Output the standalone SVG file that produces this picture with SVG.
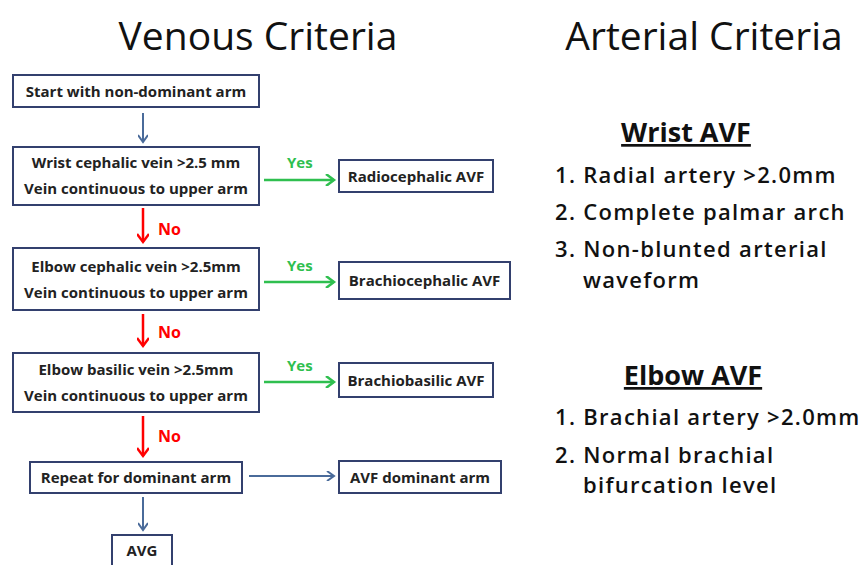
<svg xmlns="http://www.w3.org/2000/svg" width="862" height="565" viewBox="0 0 862 565">
<style>
.box{fill:#fff;stroke:#33406e;stroke-width:2}
.bt{font-family:"Open Sans","Liberation Sans",sans-serif;font-weight:bold;font-size:15px;fill:#222;text-anchor:middle}
.title{font-family:"Open Sans","Liberation Sans",sans-serif;font-size:39px;fill:#111;text-anchor:middle}
.rt{font-family:"Open Sans","Liberation Sans",sans-serif;font-weight:600;font-size:22px;letter-spacing:1.3px;fill:#111}
.rh{font-family:"Open Sans","Liberation Sans",sans-serif;font-weight:bold;font-size:27px;fill:#111;text-anchor:middle;text-decoration:underline}
.blue{stroke:#4a6b9a;stroke-width:2;fill:none}
.red{stroke:#ff0000;stroke-width:2.5;fill:none}
.green{stroke:#2fbf4f;stroke-width:2.5;fill:none}
.no{font-family:"Open Sans","Liberation Sans",sans-serif;font-weight:bold;font-size:16px;fill:#ff0000}
.yes{font-family:"Open Sans","Liberation Sans",sans-serif;font-weight:bold;font-size:15px;fill:#2fbf4f}
</style>
<defs>
<marker id="hb" markerWidth="10" markerHeight="10" refX="8" refY="5" orient="auto" markerUnits="userSpaceOnUse"><path d="M1,0 L8,5 L1,10" fill="none" stroke="#4a6b9a" stroke-width="2"/></marker>
<marker id="hr" markerWidth="12" markerHeight="12" refX="9" refY="6" orient="auto" markerUnits="userSpaceOnUse"><path d="M1,0 L9,6 L1,12" fill="none" stroke="#ff0000" stroke-width="2.5"/></marker>
<marker id="hg" markerWidth="12" markerHeight="12" refX="9" refY="6" orient="auto" markerUnits="userSpaceOnUse"><path d="M1,0 L9,6 L1,12" fill="none" stroke="#2fbf4f" stroke-width="2.5"/></marker>
</defs>
<rect width="862" height="565" fill="#fff"/>
<text class="title" x="258" y="50">Venous Criteria</text>
<text class="title" x="704" y="50">Arterial Criteria</text>

<g id="connectors">
<line class="blue" x1="143" y1="113" x2="143" y2="142" marker-end="url(#hb)"/>
<line class="red" x1="143" y1="208" x2="143" y2="242" marker-end="url(#hr)"/>
<line class="red" x1="143" y1="314" x2="143" y2="346" marker-end="url(#hr)"/>
<line class="red" x1="143" y1="416" x2="143" y2="456" marker-end="url(#hr)"/>
<line class="blue" x1="143" y1="497" x2="143" y2="530" marker-end="url(#hb)"/>
<line class="green" x1="264" y1="180" x2="334" y2="180" marker-end="url(#hg)"/>
<line class="green" x1="264" y1="282" x2="334" y2="282" marker-end="url(#hg)"/>
<line class="green" x1="264" y1="382" x2="334" y2="382" marker-end="url(#hg)"/>
<line class="blue" x1="249" y1="476" x2="334" y2="476" marker-end="url(#hb)"/>
<text class="no" x="158" y="235">No</text>
<text class="no" x="158" y="338">No</text>
<text class="no" x="158" y="442">No</text>
<text class="yes" x="287" y="168">Yes</text>
<text class="yes" x="287" y="271">Yes</text>
<text class="yes" x="287" y="371">Yes</text>
</g>

<g id="start"><rect class="box" x="13" y="75" width="246" height="32"/><text class="bt" x="136" y="97">Start with non-dominant arm</text></g>
<g id="wrist"><rect class="box" x="13" y="147" width="246" height="58"/><text class="bt" x="136" y="168">Wrist cephalic vein &gt;2.5 mm</text><text class="bt" x="136" y="194">Vein continuous to upper arm</text></g>
<g id="elbowceph"><rect class="box" x="13" y="248" width="246" height="62"/><text class="bt" x="136" y="272">Elbow cephalic vein &gt;2.5mm</text><text class="bt" x="136" y="298">Vein continuous to upper arm</text></g>
<g id="elbowbas"><rect class="box" x="13" y="353" width="246" height="59"/><text class="bt" x="136" y="375">Elbow basilic vein &gt;2.5mm</text><text class="bt" x="136" y="401">Vein continuous to upper arm</text></g>
<g id="repeat"><rect class="box" x="30" y="462" width="212" height="31"/><text class="bt" x="136" y="483">Repeat for dominant arm</text></g>
<g id="avg"><rect class="box" x="112" y="535" width="60" height="31"/><text class="bt" x="142" y="556">AVG</text></g>
<g id="radio"><rect class="box" x="339" y="160" width="154" height="32"/><text class="bt" x="416" y="182">Radiocephalic AVF</text></g>
<g id="brachioceph"><rect class="box" x="339" y="262" width="171" height="37"/><text class="bt" x="424.5" y="286">Brachiocephalic AVF</text></g>
<g id="brachiobas"><rect class="box" x="339" y="363" width="154" height="34"/><text class="bt" x="416" y="386">Brachiobasilic AVF</text></g>
<g id="avfdom"><rect class="box" x="339" y="461" width="162" height="32"/><text class="bt" x="420" y="483">AVF dominant arm</text></g>

<g id="arterial">
<text class="rh" x="686" y="142">Wrist AVF</text>
<text class="rt" x="555" y="183">1. Radial artery &gt;2.0mm</text>
<text class="rt" x="555" y="220">2. Complete palmar arch</text>
<text class="rt" x="555" y="257">3. Non-blunted arterial</text>
<text class="rt" x="583" y="288">waveform</text>
<text class="rh" x="693" y="385">Elbow AVF</text>
<text class="rt" x="555" y="425">1. Brachial artery &gt;2.0mm</text>
<text class="rt" x="555" y="463">2. Normal brachial</text>
<text class="rt" x="583" y="493">bifurcation level</text>
</g>
</svg>
